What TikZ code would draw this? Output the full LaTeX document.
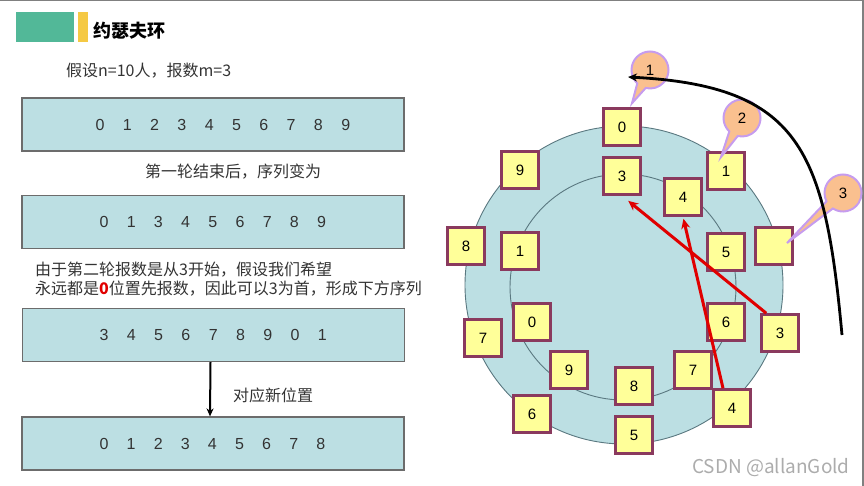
\documentclass[tikz,border=0pt]{standalone}
\usepackage{fontspec}
\setmainfont{Liberation Sans}
\newfontfamily\cjk{Noto Sans CJK SC}
\usetikzlibrary{shapes.callouts,calc,arrows.meta}

\definecolor{boxblue}{HTML}{BCDFE3}
\definecolor{ringline}{HTML}{5A7880}
\definecolor{seatfill}{HTML}{FFFF99}
\definecolor{seatline}{HTML}{8A3A5E}
\definecolor{tipfill}{HTML}{FAC08F}
\definecolor{tipline}{HTML}{C69CEE}
\definecolor{headgreen}{HTML}{52B898}
\definecolor{headyellow}{HTML}{F5C944}
\definecolor{hotred}{HTML}{E00000}

\tikzset{
  listbox/.style={draw=gray!85!black, fill=boxblue, line width=1.2pt,
    minimum width=382pt, minimum height=53pt, inner sep=0},
  digit/.style={font=\fontsize{16}{18}\selectfont, text=black!80, inner sep=0},
  seat/.style={draw=seatline, fill=seatfill, line width=2.6pt,
    minimum size=37pt, inner sep=0, font=\fontsize{15}{17}\selectfont},
  count/.style={ellipse callout, fill=tipfill, draw=tipline, line width=2pt,
    minimum width=37pt, minimum height=37pt, inner sep=0, callout pointer arc=30,
    font=\fontsize{15}{17}\selectfont},
  cnote/.style={anchor=west, inner sep=0, font=\cjk\fontsize{16}{18}\selectfont, text=black!80},
}

\begin{document}
\begin{tikzpicture}[x=1pt, y=-1pt]
  \useasboundingbox (0,0) rectangle (864,486);
  \draw[gray, line width=1.5pt] (0,0.5) -- (863,0.5) -- (863,486);

  % header
  \fill[headgreen] (16,12) rectangle (74,42);
  \fill[headyellow] (78,12) rectangle (88,42);
  \node[anchor=west, inner sep=0, font=\cjk\bfseries\fontsize{18}{20}\selectfont] (title) at (93,31) {约瑟夫环};

  % left column: sequences
  \node[cnote] (given) at (66,71) {假设n=10人，报数m=3};

  \node[listbox] (row1) at (213,124.5) {};
  \foreach \d [count=\i from 0] in {0,1,2,3,4,5,6,7,8,9}
    \node[digit] (a\i) at (100+27.3*\i,125) {\d};

  \node[cnote] (after) at (145,172) {第一轮结束后，序列变为};

  \node[listbox] (row2) at (213,222) {};
  \foreach \d [count=\i from 0] in {0,1,3,4,5,6,7,8,9}
    \node[digit] (b\i) at (104+27.2*\i,222) {\d};

  \node[cnote] (why1) at (35,270) {由于第二轮报数是从3开始，假设我们希望};
  \node[cnote] (why2) at (35,289) {永远都是{\color{hotred}\bfseries 0}位置先报数，因此可以3为首，形成下方序列};

  \node[listbox] (row3) at (213.5,335) {};
  \foreach \d [count=\i from 0] in {3,4,5,6,7,8,9,0,1}
    \node[digit] (c\i) at (104+27.3*\i,335) {\d};

  \node[listbox] (row4) at (213,443.5) {};
  \foreach \d [count=\i from 0] in {0,1,2,3,4,5,6,7,8}
    \node[digit] (e\i) at (104+27.1*\i,444) {\d};

  \draw[line width=2pt, -{Stealth[length=8pt,width=7pt]}] ([xshift=-3pt]row3.south) -- ([xshift=-3pt]row4.north);
  \node[cnote] (map) at (233,395) {对应新位置};

  % right: the ring
  \coordinate (hub) at (624,285);
  \fill[boxblue] (hub) circle (159);
  \draw[ringline, line width=0.9pt] (hub) circle (159);
  \draw[ringline, line width=0.9pt] (623,287) circle (113);

  % outer seats
  \foreach \name/\lab/\x/\y in {o0/0/622/127, o1/1/726/171, o2//774/246, o3/3/780/333,
      o4/4/732/408, o5/5/634/435, o6/6/532/414, o7/7/483/338, o8/8/466/246, o9/9/520/170}
    \node[seat] (\name) at (\x,\y) {\lab};

  % inner seats
  \foreach \name/\lab/\x/\y in {i3/3/622/176, i4/4/683/197, i5/5/726/252, i6/6/726/322,
      i7/7/693/370, i8/8/634/386, i9/9/569/370, i0/0/532/322, i1/1/520/251}
    \node[seat] (\name) at (\x,\y) {\lab};

  % counting bubbles
  \node[count, callout absolute pointer={($(o0.north)+(10,-4)$)}] (k1) at (650,70) {1};
  \node[count, callout absolute pointer={($(o1)+(-5,-14)$)}] (k2) at (742,118) {2};
  \node[count, callout absolute pointer={($(o2)+(13,-3)$)}] (k3) at (843,193) {3};

  % moves
  \draw[hotred, line width=3pt, -{Stealth[length=10pt,width=9pt]}, shorten >=8pt]
    ([xshift=6pt]o3.north west) -- (i3.south);
  \draw[hotred, line width=3pt, -{Stealth[length=10pt,width=9pt]}, shorten >=2pt]
    ([xshift=-9pt]o4.north) -- (i4.south);

  \coordinate (swing0) at (842,335);
  \coordinate (swing1) at (628,77);
  \draw[line width=2.8pt, -{Stealth[length=9pt,width=8pt]}]
    (swing0) .. controls (825,150) and (800,86) .. (swing1);

  \node[anchor=west, inner sep=0, text=gray!65, font=\cjk\fontsize{19}{21}\selectfont] (mark) at (692,468) {CSDN @allanGold};
\end{tikzpicture}
\end{document}
